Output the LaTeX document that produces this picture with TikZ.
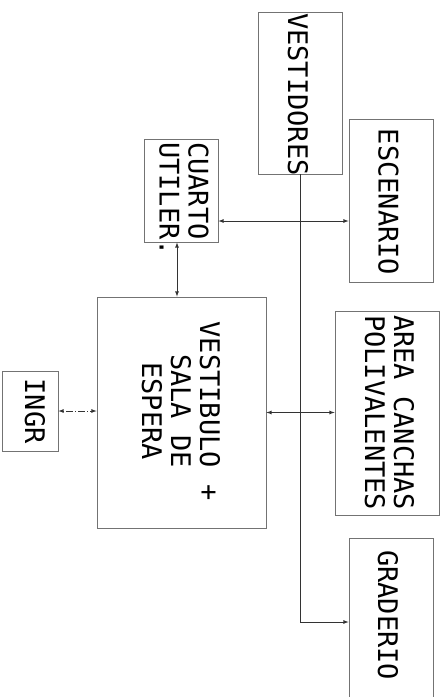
\documentclass[tikz,border=0pt]{standalone}
\usepackage{fontspec}
\newfontfamily\cadfont{DejaVu Sans Mono}
\tikzset{>=latex}
\colorlet{roomline}{black!55}
\colorlet{linkline}{black!80}
\tikzset{
  room/.style={draw=roomline,line width=.8pt,rectangle,inner sep=0pt},
  roomtxt/.style={rotate=-90,inner sep=0pt,font=\cadfont\fontsize{27}{29}\selectfont},
  link/.style={draw=linkline,line width=.8pt},
}
\begin{document}
\begin{tikzpicture}[x=1pt,y=-1pt]
  \clip (0,0) rectangle (442,697);
  \node[room,minimum width=84pt,minimum height=162pt] (vestidores) at (300.5,93) {};
  \node[room,minimum width=84pt,minimum height=163pt] (escenario) at (391,200.5) {};
  \node[room,minimum width=74pt,minimum height=103pt] (cuarto) at (181,190.5) {};
  \node[room,minimum width=169pt,minimum height=231pt] (vestibulo) at (181.5,412.5) {};
  \node[room,minimum width=56pt,minimum height=80pt] (ingr) at (30,411) {};
  \node[room,minimum width=104pt,minimum height=204pt] (canchas) at (387,413) {};
  \node[room,minimum width=84pt,minimum height=168pt] (graderio) at (391,622) {};

  \node[roomtxt,anchor=west] (tvestidores) at (298,13) {VESTIDORES};
  \node[roomtxt] (tescenario) at (388.5,202) {ESCENARIO};
  \node[roomtxt,anchor=west,align=left] (tcuarto) at (184,142) {CUARTO\\UTILER.};
  \node[roomtxt,align=center] (tvestibulo) at (181,411) {VESTIBULO +\\SALA DE\\ESPERA};
  \node[roomtxt] (tingr) at (35,411) {INGR};
  \node[roomtxt,anchor=west,align=left] (tcanchas) at (389.5,315) {AREA CANCHAS\\POLIVALENTES};
  \node[roomtxt,anchor=west] (tgraderio) at (388,550) {GRADERIO};

  \coordinate (esclvl) at (0,221);
  \coordinate (utilx) at (177,0);
  \draw[link,->] (vestidores.south) |- (graderio.west);
  \draw[link,<->] (cuarto.east |- esclvl) -- (escenario.west |- esclvl);
  \draw[link,<->] (cuarto.south -| utilx) -- (vestibulo.north -| utilx);
  \draw[link,<->] (vestibulo.east) -- (vestibulo.east -| canchas.west);
  \draw[link,<->,dash pattern=on 1pt off 2pt on 7pt off 2pt] (ingr.east) -- (ingr.east -| vestibulo.west);
\end{tikzpicture}
\end{document}
